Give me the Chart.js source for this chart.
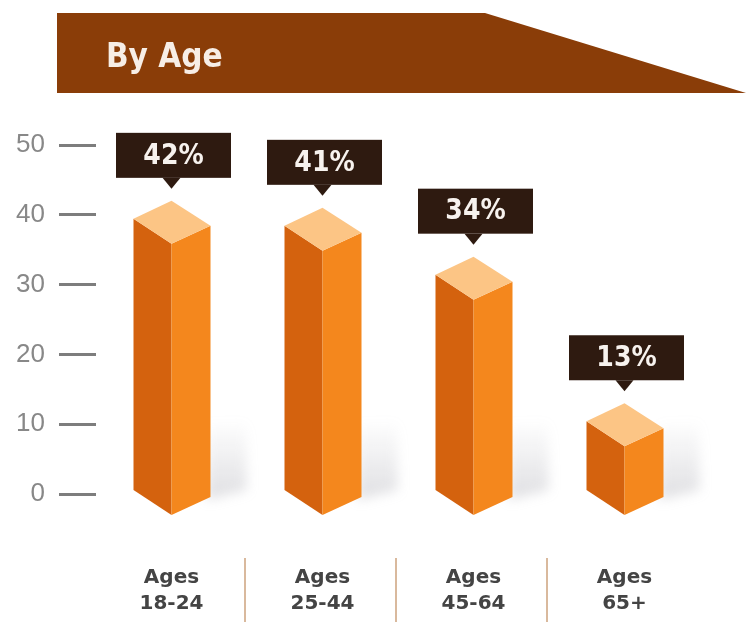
<!DOCTYPE html>
<html>
<head>
<meta charset="utf-8">
<script src="https://cdn.jsdelivr.net/npm/chart.js@4/dist/chart.umd.min.js"></script>
<style>
  html, body { margin: 0; padding: 0; background: #fff; }
  canvas { display: block; }
</style>
</head>
<body>
<canvas id="ageChart" width="746" height="622"></canvas>
<script>
// data
const title = "By Age";
const categories = [["Ages", "18-24"], ["Ages", "25-44"], ["Ages", "45-64"], ["Ages", "65+"]];
const shares = [42, 41, 34, 13];
const yMin = 0, yMax = 50, yStep = 10;

const BAND = "#8a3d08";
const CALLOUT = "#2e1a10";
const FACE_LEFT = "#d4620e";
const FACE_RIGHT = "#f4871d";
const FACE_TOP = "#fcc585";

// brown header band with the slanted right end
const headerBand = {
  id: "headerBand",
  beforeDraw(chart) {
    const ctx = chart.ctx;
    ctx.save();
    ctx.fillStyle = "#fff";
    ctx.fillRect(0, 0, chart.width, chart.height);
    ctx.fillStyle = BAND;
    ctx.beginPath();
    ctx.moveTo(57, 13);
    ctx.lineTo(485, 13);
    ctx.lineTo(746, 93);
    ctx.lineTo(57, 93);
    ctx.closePath();
    ctx.fill();
    ctx.fillStyle = "#f7eee6";
    ctx.font = "bold 33px 'DejaVu Sans Condensed', 'DejaVu Sans'";
    ctx.textBaseline = "alphabetic";
    ctx.fillText(title, 106, 67);
    ctx.restore();
  }
};

// isometric columns, shadows, value callouts and category separators
const columns3d = {
  id: "columns3d",
  afterDatasetsDraw(chart) {
    const ctx = chart.ctx;
    const meta = chart.getDatasetMeta(0);
    const y0 = chart.scales.y.getPixelForValue(0);
    const xs = meta.data.map(b => b.x);

    ctx.save();

    // separators between the category labels
    ctx.strokeStyle = "#d9b99d";
    ctx.lineWidth = 2;
    for (let i = 1; i < xs.length; i++) {
      const sx = (xs[i - 1] + xs[i]) / 2 - 2;
      ctx.beginPath();
      ctx.moveTo(sx, 558);
      ctx.lineTo(sx, 622);
      ctx.stroke();
    }

    meta.data.forEach((bar, i) => {
      const cx = bar.x;
      const vy = bar.y;
      const L = 38, R = 39;

      // soft floor shadow
      ctx.save();
      ctx.filter = "blur(6px)";
      const g = ctx.createLinearGradient(0, y0 - 75, 0, y0 + 5);
      g.addColorStop(0, "rgba(150,150,160,0)");
      g.addColorStop(1, "rgba(150,150,160,0.3)");
      ctx.fillStyle = g;
      ctx.beginPath();
      ctx.moveTo(cx + R - 4, y0 + 6);
      ctx.lineTo(cx + R - 4, y0 - 70);
      ctx.lineTo(cx + R + 36, y0 - 72);
      ctx.lineTo(cx + R + 36, y0 - 4);
      ctx.closePath();
      ctx.fill();
      ctx.restore();

      // left face
      ctx.fillStyle = FACE_LEFT;
      ctx.beginPath();
      ctx.moveTo(cx - L, vy + 18);
      ctx.lineTo(cx, vy + 43);
      ctx.lineTo(cx, y0 + 21);
      ctx.lineTo(cx - L, y0 - 4);
      ctx.closePath();
      ctx.fill();

      // right face
      ctx.fillStyle = FACE_RIGHT;
      ctx.beginPath();
      ctx.moveTo(cx, vy + 43);
      ctx.lineTo(cx + R, vy + 25);
      ctx.lineTo(cx + R, y0 + 3);
      ctx.lineTo(cx, y0 + 21);
      ctx.closePath();
      ctx.fill();

      // top
      ctx.fillStyle = FACE_TOP;
      ctx.beginPath();
      ctx.moveTo(cx, vy);
      ctx.lineTo(cx + R, vy + 25);
      ctx.lineTo(cx, vy + 43);
      ctx.lineTo(cx - L, vy + 18);
      ctx.closePath();
      ctx.fill();

      // callout box
      const bw = 115, bh = 45;
      const bx = cx + 2 - bw / 2;
      const bb = vy - 23;
      ctx.fillStyle = CALLOUT;
      ctx.fillRect(bx, bb - bh, bw, bh);
      ctx.beginPath();
      ctx.moveTo(cx - 9, bb);
      ctx.lineTo(cx + 9, bb);
      ctx.lineTo(cx, vy - 12);
      ctx.closePath();
      ctx.fill();

      ctx.fillStyle = "#f7f2ee";
      ctx.font = "bold 28px 'DejaVu Sans Condensed', 'DejaVu Sans'";
      ctx.textAlign = "center";
      ctx.textBaseline = "middle";
      ctx.fillText(shares[i] + "%", cx + 2, bb - bh / 2 + 1);
    });

    ctx.restore();
  }
};

new Chart(document.getElementById("ageChart"), {
  type: "bar",
  data: {
    labels: categories,
    datasets: [{
      data: shares,
      backgroundColor: "rgba(0,0,0,0)",
      borderWidth: 0
    }]
  },
  options: {
    responsive: false,
    animation: false,
    layout: { padding: { top: 145, right: 46, left: 0, bottom: 0 } },
    plugins: {
      legend: { display: false },
      tooltip: { enabled: false }
    },
    scales: {
      x: {
        grid: { display: false, drawTicks: false },
        border: { display: false },
        ticks: {
          maxRotation: 0,
          padding: 71,
          color: "#444",
          font: { family: "'DejaVu Sans'", size: 20, weight: "bold", lineHeight: 1.3 }
        },
        afterFit(scale) { scale.height = 128; }
      },
      y: {
        min: yMin,
        max: yMax,
        ticks: {
          stepSize: yStep,
          padding: 14,
          color: "#888",
          font: { family: "'Liberation Sans'", size: 26 }
        },
        grid: { drawOnChartArea: false, tickLength: 37, tickWidth: 3, tickColor: "#7d7d7d" },
        border: { display: false },
        afterFit(scale) { scale.width = 96; }
      }
    }
  },
  plugins: [headerBand, columns3d]
});
</script>
</body>
</html>
